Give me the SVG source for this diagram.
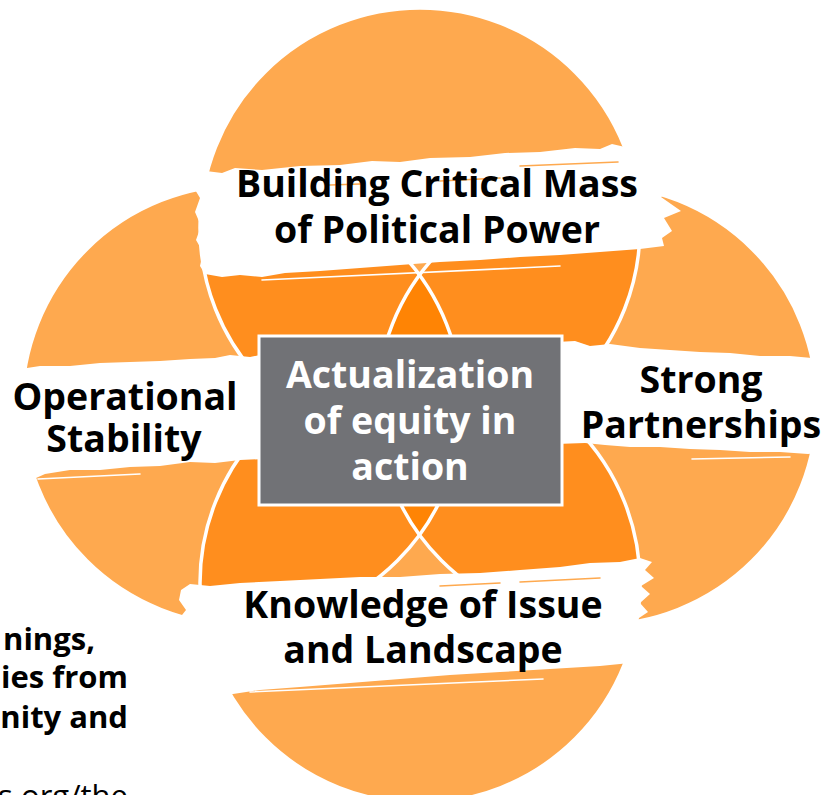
<svg xmlns="http://www.w3.org/2000/svg" width="834" height="795" viewBox="0 0 834 795">
<style>
.lt{fill:#FEA94F}
.md{fill:#FF8E1E}
.dk{fill:#FF8404}
.ol{fill:none;stroke:#FFFFFF;stroke-width:3.5}
.ban{fill:#FFFFFF}
.streak{fill:none;stroke:#FFFFFF;stroke-width:1.6;stroke-linecap:round}
.ostreak{fill:none;stroke:#FEA94F;stroke-width:1.6;stroke-linecap:round}
.lbl{font-family:"Open Sans","Noto Sans","DejaVu Sans",sans-serif;font-weight:bold;font-size:37.5px;fill:#000000;text-anchor:middle}
.ctr{font-family:"Open Sans","Noto Sans","DejaVu Sans",sans-serif;font-weight:bold;font-size:37.5px;fill:#FFFFFF;text-anchor:middle}
.side{font-family:"Open Sans","Noto Sans","DejaVu Sans",sans-serif;font-size:31px;fill:#000000;text-anchor:end}
</style>
<defs>
<clipPath id="cT"><circle cx="420" cy="228" r="220"/></clipPath>
<clipPath id="cB"><circle cx="420" cy="583" r="220"/></clipPath>
<clipPath id="cL"><circle cx="242" cy="405" r="220"/></clipPath>
<clipPath id="cR"><circle cx="597" cy="405" r="220"/></clipPath>
</defs>
<rect width="834" height="795" fill="#FFFFFF"/>

<g id="side-text">
<text class="side" x="95" y="650" font-weight="bold">nings,</text>
<text class="side" x="128" y="688" font-weight="bold">ies from</text>
<text class="side" x="128" y="728" font-weight="bold">nity and</text>
<text class="side" x="128" y="807">s.org/the</text>
</g>

<g id="circles">
<circle class="lt" cx="420" cy="228" r="220"/>
<circle class="lt" cx="420" cy="583" r="220"/>
<circle class="lt" cx="242" cy="405" r="220"/>
<circle class="lt" cx="597" cy="405" r="220"/>
<circle class="md" cx="242" cy="405" r="220" clip-path="url(#cT)"/>
<circle class="md" cx="597" cy="405" r="220" clip-path="url(#cT)"/>
<circle class="md" cx="242" cy="405" r="220" clip-path="url(#cB)"/>
<circle class="md" cx="597" cy="405" r="220" clip-path="url(#cB)"/>
<circle class="md" cx="597" cy="405" r="220" clip-path="url(#cL)"/>
<g clip-path="url(#cT)"><circle class="dk" cx="242" cy="405" r="220" clip-path="url(#cR)"/></g>
<g clip-path="url(#cB)"><circle class="dk" cx="242" cy="405" r="220" clip-path="url(#cR)"/></g>
<circle class="ol" cx="420" cy="228" r="220"/>
<circle class="ol" cx="420" cy="583" r="220"/>
<circle class="ol" cx="242" cy="405" r="220"/>
<circle class="ol" cx="597" cy="405" r="220"/>
</g>

<g id="connectors"></g>

<g id="node-top">
<path class="ban" d="M196,176 L206,171 L222,173 L235,168 L262,170 L300,166 L340,165 L372,161 L400,162 L430,158 L470,157 L505,153 L540,152 L575,148 L600,149 L612,144 L625,147 L640,144 L648,150 L662,149 L668,156 L660,162 L676,166 L665,176 L670,190 L661,197 L681,211 L664,218 L672,231 L662,238 L664,246 L640,249 L600,252 L560,255 L520,257 L480,260 L440,262 L400,265 L360,268 L320,271 L285,273 L262,277 L240,275 L222,277 L205,274 L200,266 L203,252 L196,240 L201,226 L195,212 L200,198 L194,188 Z"/>
<path class="streak" d="M262,280 L560,266"/>
<path class="ostreak" d="M520,166 L618,162 M330,185 L360,184 M440,181 L500,178"/>
<text class="lbl" x="437" y="197">Building Critical Mass</text>
<text class="lbl" x="437" y="243">of Political Power</text>
</g>

<g id="node-left">
<path class="ban" d="M14,370 L40,366 L70,366 L100,363 L130,362 L160,361 L190,359 L215,358 L230,355 L250,357 L265,354 L265,459 L240,460 L215,463 L190,462 L160,466 L130,467 L100,470 L70,470 L45,474 L36,478 L22,475 L14,470 Z"/>
<path class="streak" d="M38,479 L140,474"/>
<text class="lbl" x="125" y="410">Operational</text>
<text class="lbl" x="124" y="452">Stability</text>
</g>

<g id="node-right">
<path class="ban" d="M556,342 L575,341 L590,346 L610,344 L640,348 L670,350 L700,352 L730,353 L760,356 L790,356 L812,358 L826,360 L826,452 L808,454 L780,452 L750,452 L720,450 L690,449 L660,447 L630,447 L605,445 L585,443 L556,444 Z"/>
<path class="streak" d="M692,459 L790,457"/>
<text class="lbl" x="701" y="393">Strong</text>
<text class="lbl" x="701" y="438">Partnerships</text>
</g>

<g id="node-bottom">
<path class="ban" d="M181,590 L190,584 L210,586 L240,583 L280,581 L320,579 L360,577 L400,577 L440,574 L480,573 L520,570 L560,567 L590,563 L620,562 L640,558 L652,562 L645,570 L654,578 L641,586 L650,594 L640,603 L648,612 L636,620 L640,662 L600,666 L550,669 L500,672 L450,675 L400,679 L350,683 L300,687 L260,690 L233,694 L170,696 L182,640 L178,620 L186,610 L179,600 Z"/>
<path class="streak" d="M250,692 L543,679"/>
<path class="ostreak" d="M440,586 L500,583 M520,582 L600,578"/>
<text class="lbl" x="423" y="618">Knowledge of Issue</text>
<text class="lbl" x="423" y="663">and Landscape</text>
</g>

<g id="node-center">
<rect x="259" y="336" width="303" height="169" fill="#717276" stroke="#FFFFFF" stroke-width="3"/>
<text class="ctr" x="410" y="388">Actualization</text>
<text class="ctr" x="410" y="434">of equity in</text>
<text class="ctr" x="410" y="480">action</text>
</g>
</svg>
